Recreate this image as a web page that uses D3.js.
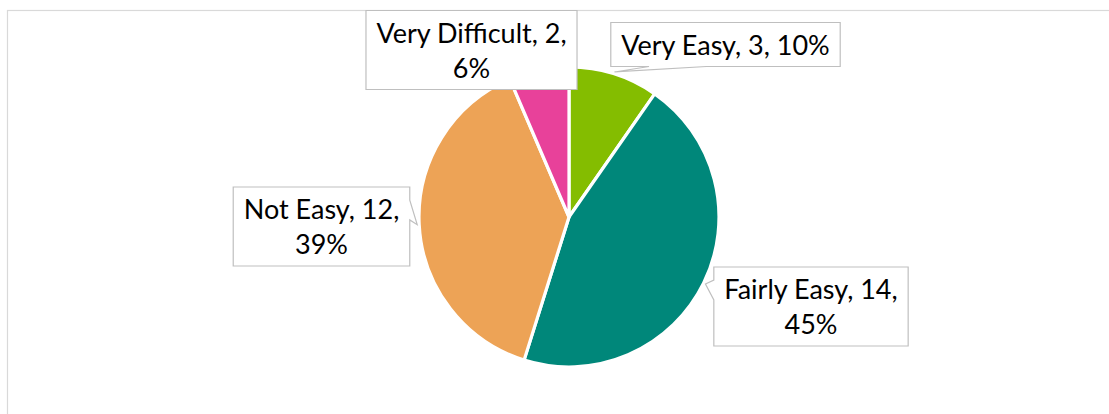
<!DOCTYPE html>
<html>
<head>
<meta charset="utf-8">
<script src="https://cdn.jsdelivr.net/npm/d3@7"></script>
<style>
  html, body { margin: 0; padding: 0; background: #fff; }
  svg { display: block; }
  text { font-family: Lato, "Open Sans", sans-serif; fill: #000; }
</style>
</head>
<body>
<svg id="chart" width="1109" height="414"></svg>
<script>
// data
var categories = ['Very Easy', 'Fairly Easy', 'Not Easy', 'Very Difficult'];
var counts = [3, 14, 12, 2];
var colours = ['#84bd00', '#00877a', '#eda356', '#e8419a'];
// label box centres and whether the label wraps onto two lines
var labelCentres = [[725.5, 44.5], [811, 306.5], [321.5, 226.5], [471.5, 50]];
var labelWraps = [false, true, true, true];

var width = 1109, height = 414;
var cx = 569, cy = 217, radius = 150;
var fontSize = 27, lineH = 35, padX = 10.5, padY = 4.5;

var svg = d3.select('#chart');

// chart area border (runs off the right and bottom of the picture)
svg.append('rect')
    .attr('x', 7.5).attr('y', 10.5)
    .attr('width', 1300).attr('height', 600)
    .attr('fill', 'none')
    .attr('stroke', '#d9d9d9')
    .attr('stroke-width', 1.2);

var total = d3.sum(counts);
var rows = categories.map(function(c, i) {
  return {cat: c, value: counts[i], colour: colours[i], centre: labelCentres[i], wrap: labelWraps[i]};
});

var pie = d3.pie().sort(null).value(function(d) { return d.value; });
var arc = d3.arc().innerRadius(0).outerRadius(radius);
var arcs = pie(rows);

var g = svg.append('g').attr('transform', 'translate(' + cx + ',' + cy + ')');

g.selectAll('path.slice')
    .data(arcs)
  .enter().append('path')
    .attr('class', 'slice')
    .attr('d', arc)
    .attr('fill', function(d) { return d.data.colour; })
    .attr('stroke', '#fff')
    .attr('stroke-width', 3.2)
    .attr('stroke-linejoin', 'round');

// callout shape like Excel's wedgeRectCallout
var callout = function(x, y, w, h, tx, ty) {
  var hc = x + w / 2, vc = y + h / 2;
  var dx = tx - hc, dy = ty - vc;
  var inside = tx >= x && tx <= x + w && ty >= y && ty <= y + h;
  if (inside) {
    return 'M' + x + ',' + y + 'H' + (x + w) + 'V' + (y + h) + 'H' + x + 'Z';
  }
  var dq = dx * h / w;
  var x1 = x + w * (dx > 0 ? 7 : 2) / 12, x2 = x + w * (dx > 0 ? 10 : 5) / 12;
  var y1 = y + h * (dy > 0 ? 7 : 2) / 12, y2 = y + h * (dy > 0 ? 10 : 5) / 12;
  var p = [[x, y]];
  if (Math.abs(dy) - Math.abs(dq) > 0) {
    if (dy < 0) p.push([x1, y], [tx, ty], [x2, y]);
    p.push([x + w, y], [x + w, y + h]);
    if (dy > 0) p.push([x2, y + h], [tx, ty], [x1, y + h]);
    p.push([x, y + h]);
  } else {
    p.push([x + w, y]);
    if (dx > 0) p.push([x + w, y1], [tx, ty], [x + w, y2]);
    p.push([x + w, y + h], [x, y + h]);
    if (dx < 0) p.push([x, y2], [tx, ty], [x, y1]);
  }
  return 'M' + p.map(function(q) { return q.join(','); }).join('L') + 'Z';
};

var labels = svg.append('g').attr('class', 'labels');

arcs.forEach(function(d) {
  var pct = Math.round(d.data.value / total * 100) + '%';
  var lines = d.data.wrap
      ? [d.data.cat + ', ' + d.data.value + ',', pct]
      : [d.data.cat + ', ' + d.data.value + ', ' + pct];
  var lx = d.data.centre[0], ly = d.data.centre[1];

  var lab = labels.append('g');
  var box = lab.append('path');
  var txt = lab.append('text')
      .attr('text-anchor', 'middle')
      .style('font-size', fontSize + 'px');
  lines.forEach(function(l, i) {
    txt.append('tspan')
        .attr('x', lx)
        .attr('y', ly - (lines.length - 1) * lineH / 2 + 10 + i * lineH)
        .text(l);
  });

  var tw = txt.node().getBBox().width;
  var bw = tw + 2 * padX, bh = lines.length * lineH + 2 * padY;
  var mid = (d.startAngle + d.endAngle) / 2;
  var tip = [cx + (radius + 2) * Math.sin(mid), cy - (radius + 2) * Math.cos(mid)];

  box.attr('d', callout(lx - bw / 2, ly - bh / 2, bw, bh, tip[0], tip[1]))
      .attr('fill', '#fff')
      .attr('stroke', '#bfbfbf')
      .attr('stroke-width', 1.2);
});
</script>
</body>
</html>
